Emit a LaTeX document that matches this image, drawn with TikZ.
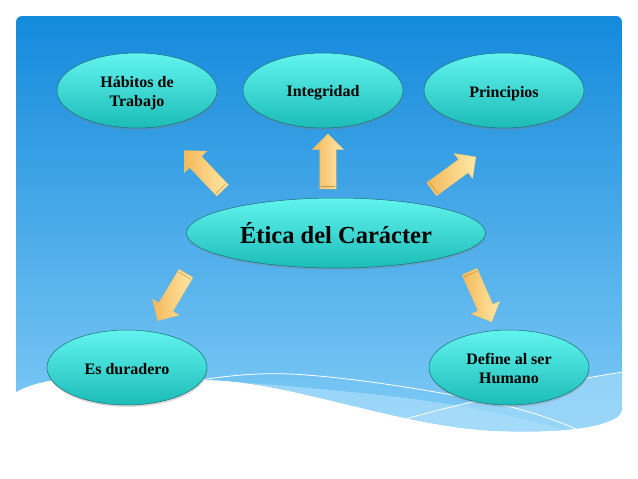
\documentclass[tikz,border=0pt]{standalone}
\usepackage{fontspec}
\setmainfont{Liberation Serif}
\usetikzlibrary{shapes.geometric,shapes.arrows,shadows,calc}

\definecolor{paneltop}{RGB}{20,138,220}
\definecolor{panelbot}{RGB}{128,203,246}
\definecolor{bandblue}{RGB}{170,222,251}
\definecolor{cyantop}{RGB}{98,244,239}
\definecolor{cyanbot}{RGB}{28,188,183}
\definecolor{cyanline}{RGB}{28,112,118}
\definecolor{arrowlight}{RGB}{255,233,168}
\definecolor{arrowdark}{RGB}{244,184,88}

% text sitting a little below the middle of its ellipse
\newcommand{\lowtext}[2]{\raisebox{-#1}[0pt][0pt]{\begin{tabular}[b]{@{}c@{}}#2\end{tabular}}}

\begin{document}
\begin{tikzpicture}[x=1pt,y=-1pt]
            \tikzset{idea/.style={ellipse, draw=cyanline, line width=.5pt,
                top color=cyantop, bottom color=cyanbot,
                minimum width=160pt, minimum height=75pt, inner sep=0pt,
                font=\fontsize{16}{19}\selectfont\bfseries, text=black,
                drop shadow={opacity=.3, shadow xshift=.5pt, shadow yshift=-2pt}}}
            \tikzset{pointer/.style={single arrow, sloped, allow upside down,
                inner xsep=0pt, inner ysep=8pt,
                minimum height=55pt, single arrow head extend=7.5pt,
                single arrow head indent=0pt, left color=arrowdark, right color=arrowlight,
                draw=arrowdark!90, line width=.3pt}}
            \tikzset{capline/.style={arrowdark!80!black, line width=.5pt}}

            \useasboundingbox (0,0) rectangle (638,479);

            % panel with the wave at the bottom
            \begin{scope}
                \clip (16,392) {[rounded corners=6pt] -- (16,16) -- (622,16) -- (622,414)}
                    .. controls (600,428) and (560,433) .. (500,431)
                    .. controls (440,429) and (380,412) .. (320,398)
                    .. controls (270,386) and (240,381) .. (207,380)
                    .. controls (130,374) and (50,372) .. (16,392) -- cycle;
                \shade[top color=paneltop, bottom color=panelbot] (16,16) rectangle (622,433);
                \fill[bandblue, opacity=.7] (207,381) .. controls (260,383) and (300,387) .. (340,391)
                    .. controls (420,398) and (520,412) .. (590,440) -- (200,440) -- cycle;
                \fill[bandblue, opacity=.6] (395,425) .. controls (430,412) and (460,404) .. (500,396)
                    .. controls (540,388) and (580,378) .. (630,371) -- (630,440) -- (395,440) -- cycle;
                \draw[white, line width=.8pt] (200,380) .. controls (240,374) and (265,373) .. (290,374)
                    .. controls (350,377) and (420,389) .. (480,400)
                    .. controls (520,408) and (560,420) .. (590,436);
                \draw[white, line width=.8pt] (395,422) .. controls (430,412) and (460,404) .. (500,396)
                    .. controls (540,388) and (580,378) .. (630,371);
            \end{scope}

            \node[idea] (habitos) at (137,90.5) {\lowtext{15.5pt}{Hábitos de\\Trabajo}};
            \node[idea] (integridad) at (323,90.5) {\lowtext{6.3pt}{Integridad}};
            \node[idea] (principios) at (504,90.5) {\lowtext{6.5pt}{Principios}};
            \node[idea, minimum width=299pt, minimum height=70pt,
                font=\fontsize{24.5}{29}\selectfont\bfseries] (etica) at (336,233) {\lowtext{10pt}{Ética del Carácter}};
            \node[idea] (duradero) at (127,367.5) {\lowtext{6.5pt}{Es duradero}};
            \node[idea] (humano) at (509,367.5) {\lowtext{15.5pt}{Define al ser\\Humano}};

            % block arrows out of the centre
            \coordinate (t1) at (226,194); \coordinate (h1) at (187,153);
            \coordinate (t2) at (328,193); \coordinate (h2) at (328,138);
            \coordinate (t3) at (428,192); \coordinate (h3) at (473,159);
            \coordinate (t4) at (188,270); \coordinate (h4) at (160,317);
            \coordinate (t5) at (468,268); \coordinate (h5) at (490,318);

            \path (t1) -- node[pointer] (ar1) {} (h1);
            \path (t2) -- node[pointer] (ar2) {} (h2);
            \path (t3) -- node[pointer] (ar3) {} (h3);
            \path (t4) -- node[pointer] (ar4) {} (h4);
            \path (t5) -- node[pointer] (ar5) {} (h5);

            \draw[capline] ($(ar1.before tail)!3pt!(ar1.before head)$) -- ($(ar1.after tail)!3pt!(ar1.after head)$);
            \draw[capline] ($(ar2.before tail)!3pt!(ar2.before head)$) -- ($(ar2.after tail)!3pt!(ar2.after head)$);
            \draw[capline] ($(ar3.before tail)!3pt!(ar3.before head)$) -- ($(ar3.after tail)!3pt!(ar3.after head)$);
            \draw[capline] ($(ar4.before tail)!3pt!(ar4.before head)$) -- ($(ar4.after tail)!3pt!(ar4.after head)$);
            \draw[capline] ($(ar5.before tail)!3pt!(ar5.before head)$) -- ($(ar5.after tail)!3pt!(ar5.after head)$);
\end{tikzpicture}
\end{document}
